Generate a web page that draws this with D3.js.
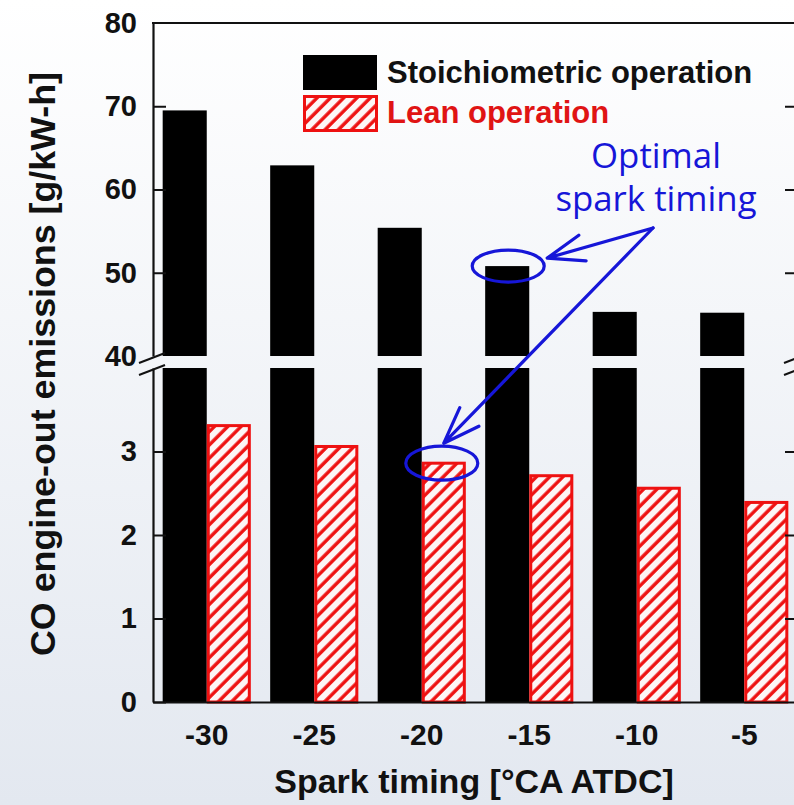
<!DOCTYPE html>
<html>
<head>
<meta charset="utf-8">
<script src="https://cdn.jsdelivr.net/npm/d3@7"></script>
<style>
  body { margin: 0; padding: 0; overflow: hidden; }
  svg { display: block; }
  .axis text { font-family: "Liberation Sans", Arial, sans-serif; font-weight: bold; fill: #111; }
</style>
</head>
<body>
<svg id="chart" width="794" height="805"></svg>
<script>
// chart data
var timings = ["-30", "-25", "-20", "-15", "-10", "-5"];
var stoich = [69.5, 62.9, 55.4, 50.8, 45.3, 45.2];
var lean = [3.31, 3.06, 2.86, 2.71, 2.56, 2.39];
var seriesNames = ["Stoichiometric operation", "Lean operation"];
var upperTicks = [40, 50, 60, 70, 80];
var lowerTicks = [0, 1, 2, 3];

var W = 794, H = 805;
var plotL = 153, plotR = 798, plotT = 23, plotB = 702;
var breakHi = 356, breakLo = 368;
var RED = "#ee1111", BLUE = "#1616d8";

var svg = d3.select("#chart");

// background gradient
var defs = svg.append("defs");
var grad = defs.append("linearGradient")
    .attr("id", "bg").attr("x1", 0).attr("y1", 0).attr("x2", 0).attr("y2", 1);
grad.append("stop").attr("offset", "0%").attr("stop-color", "#ffffff");
grad.append("stop").attr("offset", "100%").attr("stop-color", "#e3e8f0");
svg.append("rect").attr("width", W).attr("height", H).attr("fill", "url(#bg)");

// hatch pattern for lean bars
var pat = defs.append("pattern")
    .attr("id", "hatch")
    .attr("patternUnits", "userSpaceOnUse")
    .attr("width", 9.4).attr("height", 9.4)
    .attr("patternTransform", "rotate(45)");
pat.append("rect").attr("width", 9.4).attr("height", 9.4).attr("fill", "#fdf6f6");
pat.append("line")
    .attr("x1", 2).attr("y1", 0).attr("x2", 2).attr("y2", 9.4)
    .attr("stroke", RED).attr("stroke-width", 3.4);

// set the ranges
var x0 = d3.scaleBand().domain(timings).range([plotL, plotR])
    .paddingInner(0.18).paddingOuter(0.09);
var x1 = d3.scaleBand().domain(seriesNames).range([0, x0.bandwidth()]);
var yTop = d3.scaleLinear().domain([40, 80]).range([breakHi, plotT]);
var yBot = d3.scaleLinear().domain([0, 4]).range([plotB, breakLo]);

var data = timings.map(function(t, i) {
  return { t: t, s: stoich[i], l: lean[i] };
});

// black bars, upper part
svg.append("g").selectAll("rect")
    .data(data).enter().append("rect")
    .attr("x", function(d) { return x0(d.t) + x1(seriesNames[0]); })
    .attr("y", function(d) { return yTop(d.s); })
    .attr("width", x1.bandwidth())
    .attr("height", function(d) { return yTop(40) - yTop(d.s); })
    .attr("fill", "#000");

// black bars, lower part
svg.append("g").selectAll("rect")
    .data(data).enter().append("rect")
    .attr("x", function(d) { return x0(d.t) + x1(seriesNames[0]); })
    .attr("y", function(d) { return yBot(Math.min(d.s, 4)); })
    .attr("width", x1.bandwidth())
    .attr("height", function(d) { return yBot(0) - yBot(Math.min(d.s, 4)); })
    .attr("fill", "#000");

// lean bars
svg.append("g").selectAll("rect")
    .data(data).enter().append("rect")
    .attr("x", function(d) { return x0(d.t) + x1(seriesNames[1]) + 1.5; })
    .attr("y", function(d) { return yBot(d.l); })
    .attr("width", x1.bandwidth() - 3)
    .attr("height", function(d) { return yBot(0) - yBot(d.l); })
    .attr("fill", "url(#hatch)")
    .attr("stroke", RED).attr("stroke-width", 3);

// left axis, two pieces
var axUp = svg.append("g").attr("class", "axis")
    .attr("transform", "translate(" + plotL + ",0)")
    .call(d3.axisLeft(yTop).tickValues(upperTicks).tickFormat(d3.format("d"))
      .tickSize(-13).tickSizeOuter(0).tickPadding(16));
var axLo = svg.append("g").attr("class", "axis")
    .attr("transform", "translate(" + plotL + ",0)")
    .call(d3.axisLeft(yBot).tickValues(lowerTicks).tickFormat(d3.format("d"))
      .tickSize(-13).tickSizeOuter(0).tickPadding(16));
[axUp, axLo].forEach(function(a) {
  a.selectAll("path.domain").attr("stroke", "#111").attr("stroke-width", 2.2);
  a.selectAll(".tick line").attr("stroke", "#111").attr("stroke-width", 2);
  a.selectAll(".tick text").style("font-size", "29px");
});
axUp.selectAll(".tick").filter(function(d) { return d === 40 || d === 80; })
    .select("line").remove();

// right axis, ticks only
var rUp = svg.append("g").attr("class", "axis")
    .attr("transform", "translate(" + plotR + ",0)")
    .call(d3.axisRight(yTop).tickValues([50, 60, 70]).tickSize(-13).tickSizeOuter(0).tickFormat(""));
var rLo = svg.append("g").attr("class", "axis")
    .attr("transform", "translate(" + plotR + ",0)")
    .call(d3.axisRight(yBot).tickValues([1, 2, 3]).tickSize(-13).tickSizeOuter(0).tickFormat(""));
[rUp, rLo].forEach(function(a) {
  a.selectAll(".tick line").attr("stroke", "#111").attr("stroke-width", 2);
});

// top and bottom frame
svg.append("line").attr("x1", plotL - 1).attr("x2", plotR).attr("y1", plotT).attr("y2", plotT)
    .attr("stroke", "#111").attr("stroke-width", 2.2);
var axX = svg.append("g").attr("class", "axis")
    .attr("transform", "translate(0," + plotB + ")")
    .call(d3.axisBottom(x0).tickSize(0).tickPadding(22));
axX.select("path.domain").attr("stroke", "#111").attr("stroke-width", 2.2);
axX.selectAll(".tick text").style("font-size", "30px");

// axis break marks
[plotL, plotR].forEach(function(ax) {
  [breakHi + 2, breakLo + 2].forEach(function(yy) {
    svg.append("line")
        .attr("x1", ax - 14).attr("y1", yy + 5)
        .attr("x2", ax + 12).attr("y2", yy - 5)
        .attr("stroke", "#111").attr("stroke-width", 2);
  });
});

// axis titles
svg.append("text")
    .attr("transform", "translate(55,364) rotate(-90)")
    .attr("text-anchor", "middle")
    .style("font-family", "Liberation Sans, Arial, sans-serif")
    .style("font-weight", "bold").style("font-size", "35.8px").attr("fill", "#111")
    .text("CO engine-out emissions [g/kW-h]");
svg.append("text")
    .attr("x", 474).attr("y", 793)
    .attr("text-anchor", "middle")
    .style("font-family", "Liberation Sans, Arial, sans-serif")
    .style("font-weight", "bold").style("font-size", "34px").attr("fill", "#111")
    .text("Spark timing [°CA ATDC]");

// legend
var lg = svg.append("g");
lg.append("rect").attr("x", 303).attr("y", 55).attr("width", 74).attr("height", 35).attr("fill", "#000");
lg.append("rect").attr("x", 304.5).attr("y", 96.5).attr("width", 72).attr("height", 34)
    .attr("fill", "url(#hatch)").attr("stroke", RED).attr("stroke-width", 3);
lg.append("text").attr("x", 387).attr("y", 83)
    .style("font-family", "Liberation Sans, Arial, sans-serif")
    .style("font-weight", "bold").style("font-size", "31px").attr("fill", "#111")
    .text(seriesNames[0]);
lg.append("text").attr("x", 387).attr("y", 123)
    .style("font-family", "Liberation Sans, Arial, sans-serif")
    .style("font-weight", "bold").style("font-size", "31px").attr("fill", "#e01414")
    .text(seriesNames[1]);

// annotation
var ann = svg.append("g").attr("fill", BLUE)
    .style("font-family", "Open Sans, sans-serif").style("font-size", "34.8px");
ann.append("text").attr("x", 656).attr("y", 168).attr("text-anchor", "middle").text("Optimal");
ann.append("text").attr("x", 656).attr("y", 211).attr("text-anchor", "middle").text("spark timing");

var e1 = { cx: x0("-15") + x1(seriesNames[0]) + x1.bandwidth() / 2 + 1, cy: yTop(stoich[3]), rx: 36, ry: 16 };
var e2 = { cx: x0("-20") + x1(seriesNames[1]) + x1.bandwidth() / 2 - 2, cy: yBot(lean[2]), rx: 36, ry: 17 };
[e1, e2].forEach(function(e) {
  svg.append("ellipse")
      .attr("cx", e.cx).attr("cy", e.cy).attr("rx", e.rx).attr("ry", e.ry)
      .attr("fill", "none").attr("stroke", BLUE).attr("stroke-width", 3.2);
});

var origin = [653, 228];
var tips = [[e1.cx + 39, e1.cy - 8], [e2.cx + 2, e2.cy - 20]];
tips.forEach(function(tp) {
  var ang = Math.atan2(origin[1] - tp[1], origin[0] - tp[0]);
  var len = 39, spread = 20 * Math.PI / 180;
  var a1 = [tp[0] + len * Math.cos(ang - spread), tp[1] + len * Math.sin(ang - spread)];
  var a2 = [tp[0] + len * Math.cos(ang + spread), tp[1] + len * Math.sin(ang + spread)];
  svg.append("path")
      .attr("d", "M" + origin + "L" + tp + "M" + a1 + "L" + tp + "L" + a2)
      .attr("fill", "none").attr("stroke", BLUE).attr("stroke-width", 3.2)
      .attr("stroke-linecap", "round").attr("stroke-linejoin", "round");
});
</script>
</body>
</html>
